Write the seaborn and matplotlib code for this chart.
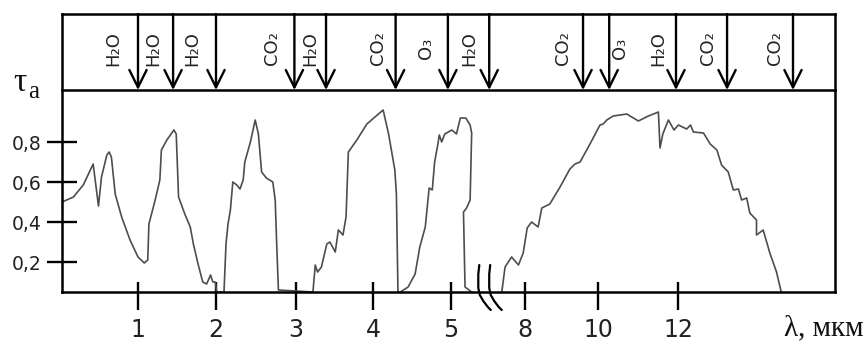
import numpy as np
import pandas as pd
import matplotlib
matplotlib.use("Agg")
import matplotlib.pyplot as plt
import matplotlib.transforms as mtransforms
from matplotlib.ticker import NullLocator
import seaborn as sns

# ---------------- data (wavelength in µm, transmittance) ----------------
wl_a = [0.00, 0.15, 0.28, 0.41, 0.48, 0.52, 0.59, 0.62, 0.65, 0.70, 0.785, 0.895,
        1.00, 1.08, 1.125, 1.14, 1.22, 1.28, 1.30, 1.37, 1.46, 1.49, 1.52, 1.60,
        1.67, 1.71, 1.77, 1.83, 1.88, 1.93, 1.96, 1.99, 2.01, 2.10, 2.125, 2.15,
        2.18, 2.21, 2.26, 2.30, 2.34, 2.36, 2.43, 2.49, 2.53, 2.57, 2.63, 2.71,
        2.74, 2.76, 2.78, 3.22, 3.25, 3.28, 3.33, 3.40, 3.44, 3.51, 3.55, 3.61,
        3.65, 3.68, 3.79, 3.92, 4.13, 4.20, 4.28, 4.30, 4.32, 4.35, 4.45, 4.54,
        4.60, 4.67, 4.72, 4.76, 4.79, 4.83, 4.85, 4.88, 4.92, 5.01, 5.07, 5.12,
        5.19, 5.245, 5.265, 5.245, 5.20, 5.16, 5.17, 5.18, 5.265]
tau_a = [0.50, 0.525, 0.585, 0.69, 0.48, 0.625, 0.735, 0.75, 0.725, 0.54, 0.425, 0.31,
         0.225, 0.195, 0.21, 0.39, 0.51, 0.61, 0.76, 0.81, 0.86, 0.84, 0.525, 0.44,
         0.375, 0.29, 0.19, 0.10, 0.09, 0.135, 0.10, 0.10, 0.05, 0.05, 0.29, 0.39,
         0.46, 0.60, 0.585, 0.565, 0.61, 0.70, 0.80, 0.91, 0.84, 0.65, 0.62, 0.60,
         0.51, 0.275, 0.06, 0.05, 0.185, 0.15, 0.175, 0.29, 0.30, 0.25, 0.36, 0.335,
         0.425, 0.75, 0.81, 0.89, 0.96, 0.84, 0.66, 0.54, 0.05, 0.05, 0.075, 0.14,
         0.275, 0.375, 0.57, 0.56, 0.70, 0.785, 0.835, 0.80, 0.84, 0.86, 0.84, 0.92,
         0.92, 0.885, 0.845, 0.51, 0.47, 0.45, 0.26, 0.075, 0.05]

wl_b = [7.36, 7.45, 7.63, 7.82, 7.95, 8.06, 8.18, 8.36, 8.46, 8.68, 8.96, 9.23,
        9.37, 9.51, 9.78, 10.05, 10.13, 10.22, 10.38, 10.72, 11.01, 11.26, 11.51,
        11.55, 11.62, 11.76, 11.90, 12.01, 12.22, 12.32, 12.39, 12.65, 12.82, 12.99,
        13.11, 13.28, 13.41, 13.54, 13.62, 13.75, 13.83, 14.00, 14.00, 14.17, 14.34,
        14.51, 14.63]
tau_b = [0.05, 0.175, 0.225, 0.185, 0.245, 0.37, 0.40, 0.375, 0.47, 0.49, 0.575, 0.665,
         0.69, 0.70, 0.79, 0.885, 0.89, 0.91, 0.93, 0.94, 0.905, 0.93, 0.95,
         0.77, 0.84, 0.91, 0.86, 0.885, 0.865, 0.885, 0.85, 0.845, 0.79, 0.76,
         0.685, 0.65, 0.56, 0.565, 0.51, 0.52, 0.445, 0.41, 0.335, 0.36, 0.245,
         0.15, 0.05]

x_ticks = [1, 2, 3, 4, 5, 8, 10, 12]
x_tick_labels = ["1", "2", "3", "4", "5", "8", "10", "12"]
y_ticks = [0.2, 0.4, 0.6, 0.8]
y_tick_labels = ["0,2", "0,4", "0,6", "0,8"]

band_arrow_wl = [1.0, 1.45, 2.0, 2.98, 3.39, 4.29, 4.96, 5.49, 9.59, 10.28, 11.95, 13.25, 14.93]
band_label_wl = [0.67, 1.19, 1.69, 2.70, 3.18, 4.06, 4.68, 5.24, 9.04, 10.55, 11.50, 12.77, 14.48]
band_label_text = ["H₂O", "H₂O", "H₂O", "CO₂", "H₂O", "CO₂", "O₃", "H₂O",
                   "CO₂", "O₃", "H₂O", "CO₂", "CO₂"]
break_wl = [5.35, 5.49]

# ---------------- style ----------------
sns.set_theme(style="white")
plt.rcParams["font.family"] = ["DejaVu Sans"]

W, H = 866, 343
fig = plt.figure(figsize=(W / 100, H / 100), dpi=100)
ax = fig.add_axes([62 / W, 51 / H, 773 / W, 202 / H])
axb = fig.add_axes([62 / W, 253 / H, 773 / W, 76 / H])

# broken, piecewise wavelength axis
knots_wl = [0, 1, 2, 3, 4, 5, 5.5, 7.2, 8, 10, 12, 16]
knots_px = [62, 138, 216, 296, 373, 451, 490, 496, 525, 598, 678, 835]


def fwd(x):
    return np.interp(x, knots_wl, knots_px)


def inv(p):
    return np.interp(p, knots_px, knots_wl)


for a in (ax, axb):
    a.set_xscale("function", functions=(fwd, inv))
    a.set_xlim(0, 16)

df = pd.concat([
    pd.DataFrame({"wl": wl_a, "tau": tau_a, "seg": "a"}),
    pd.DataFrame({"wl": wl_b, "tau": tau_b, "seg": "b"}),
], ignore_index=True)

sns.lineplot(data=df, x="wl", y="tau", units="seg", estimator=None, sort=False,
             color="#4d4d4d", lw=1.2, ax=ax, legend=False)

ax.set_ylim(0.05, 1.06)
ax.set_xlabel("")
ax.set_ylabel("")

ax.set_xticks(x_ticks, x_tick_labels)
ax.set_xticks(x_ticks, minor=True)
ax.xaxis.remove_overlapping_locs = False
ax.tick_params(axis="x", which="major", bottom=True, direction="out", length=13, width=1.7,
               color="black", pad=6, labelsize=17, labelcolor="#222222")
ax.tick_params(axis="x", which="minor", bottom=True, direction="in", length=7, width=1.7,
               color="black", labelbottom=False)
ax.set_yticks(y_ticks, y_tick_labels)
ax.yaxis.set_minor_locator(NullLocator())
ax.tick_params(axis="y", which="major", left=True, direction="inout", length=22, width=1.7,
               color="black", pad=4, labelsize=13.5, labelcolor="#222222")
ax.spines["top"].set_visible(False)
for s in ("left", "bottom", "right"):
    ax.spines[s].set_linewidth(1.8)
    ax.spines[s].set_color("black")

axb.set_ylim(0, 1)
axb.set_xticks([])
axb.set_xticks([], minor=True)
axb.set_yticks([])
for s in axb.spines.values():
    s.set_linewidth(1.8)
    s.set_color("black")

for w in band_arrow_wl:
    axb.annotate("", xy=(w, 0), xytext=(w, 1),
                 arrowprops=dict(arrowstyle="->,head_length=1.25,head_width=0.62",
                                 lw=1.7, color="black", shrinkA=0, shrinkB=0,
                                 mutation_scale=10))
for w, t in zip(band_label_wl, band_label_text):
    axb.text(w, 0.55, t, rotation=90, ha="center", va="center",
             fontsize=13, color="#222222")

# axis break marks (vertical stroke curling to the right below the axis)
mark_x = np.array([1.0, 0.0, 0.0, 1.5, 5.0, 9.5, 12.5]) * 0.72 / 72
mark_y = np.array([27.0, 18.0, 4.0, -3.0, -9.0, -15.0, -18.0]) * 0.72 / 72
for bw in break_wl:
    tr = fig.dpi_scale_trans + mtransforms.ScaledTranslation(bw, 0.05, ax.transData)
    ax.plot(mark_x, mark_y, color="black", lw=1.6, transform=tr, clip_on=False,
            solid_capstyle="round")

# texts
fig.text(13 / W, 1 - 91 / H, "τ", family="Liberation Serif", fontsize=24,
         va="baseline", ha="left", color="#111111")
fig.text(28 / W, 1 - 98 / H, "a", family="Liberation Serif", fontsize=18,
         va="baseline", ha="left", color="#111111")
fig.text(864 / W, 1 - 335 / H, "λ, мкм", family="Liberation Serif", fontsize=21,
         va="baseline", ha="right", color="#111111")

fig.savefig("out.png", dpi=100)
